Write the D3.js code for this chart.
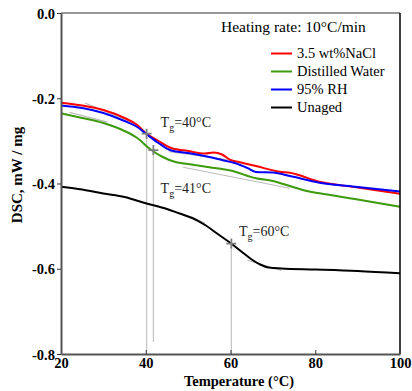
<!DOCTYPE html>
<html><head><meta charset="utf-8">
<script src="https://cdn.jsdelivr.net/npm/d3@7"></script>
<style>body{margin:0;background:#fff}svg{display:block}svg text{font-family:"Liberation Serif","Times New Roman",serif !important}</style>
</head><body>
<svg id="c" width="412" height="391"></svg>
<script>
const seriesNames = ["3.5 wt%NaCl","Distilled Water","95% RH","Unaged"];
const seriesColors = ["#ff0000","#3d9a0c","#0000ff","#000000"];
const nacl = [[20,-0.2104],[25,-0.217],[30,-0.2276],[35,-0.2463],[38,-0.2627],[40,-0.2815],[43,-0.3003],[46,-0.3167],[50,-0.3238],[54,-0.3296],[56,-0.3273],[58,-0.332],[60,-0.3449],[62,-0.3496],[66,-0.359],[71.6,-0.3723],[74,-0.3747],[81,-0.3958],[90,-0.4094],[100,-0.424]];
const water = [[20,-0.2353],[25,-0.2463],[30,-0.2581],[35,-0.2768],[38,-0.2933],[41,-0.3191],[44,-0.3378],[47,-0.3496],[50,-0.3543],[55,-0.362],[60,-0.3695],[66,-0.3878],[70,-0.3941],[74,-0.4059],[78,-0.4176],[81,-0.423],[90,-0.4375],[100,-0.4545]];
const rh = [[20,-0.217],[25,-0.2229],[30,-0.2346],[35,-0.2534],[38,-0.2674],[40,-0.2827],[43,-0.305],[46,-0.3226],[50,-0.3284],[55,-0.3378],[58,-0.3449],[61,-0.352],[64,-0.3637],[66,-0.373],[70,-0.3742],[74,-0.3824],[81,-0.3981],[90,-0.4082],[100,-0.4188]];
const unaged = [[20,-0.4075],[25,-0.4141],[30,-0.4235],[35,-0.4317],[40,-0.4465],[45,-0.4598],[48,-0.4704],[51,-0.4809],[54,-0.4974],[57,-0.5185],[60,-0.5396],[63,-0.563],[65,-0.5783],[67,-0.59],[69,-0.5971],[72,-0.5994],[80,-0.6018],[90,-0.6053],[100,-0.6107]];
const fitLines = [
  [[25.7,-0.2115],[37,-0.2575]],
  [[45.5,-0.3255],[60,-0.3450]],
  [[48.8,-0.3619],[74,-0.4112]],
  [[22,-0.2330],[31,-0.2560]],
  [[44,-0.4560],[54,-0.4930]],
  [[64,-0.5800],[72,-0.6040]]
];
const tgTemps = [40.2, 41.8, 60.2];
const tgValues = [-0.283, -0.3215, -0.541];
const tgBottoms = [-0.8, -0.772, -0.8];
const tgLabels = ["40","41","60"];
const tgLabelPos = [[43.5,-0.267],[43.5,-0.4225],[62,-0.522]];
const xTicks = [20,40,60,80,100];
const yTicks = [0,-0.2,-0.4,-0.6,-0.8];

const svg = d3.select("#c");
const L=61,R=400,T=13,B=354;
const x = d3.scaleLinear().domain([20,100]).range([L,R]);
const y = d3.scaleLinear().domain([-0.8,0]).range([B,T]);

const line = d3.line().x(d=>x(d[0])).y(d=>y(d[1]));
fitLines.forEach(f=>svg.append("path").attr("d",line(f)).attr("fill","none").attr("stroke","#bdbdbd").attr("stroke-width",1.2));
tgTemps.forEach((t,i)=>svg.append("line").attr("x1",x(t)).attr("x2",x(t)).attr("y1",y(tgValues[i])).attr("y2",y(tgBottoms[i])).attr("stroke","#c4c4c4").attr("stroke-width",1.2));

const curve = d3.line().x(d=>x(d[0])).y(d=>y(d[1])).curve(d3.curveMonotoneX);
[[water,1],[nacl,0],[rh,2],[unaged,3]].forEach(([d,i])=>{
  svg.append("path").attr("d",curve(d)).attr("fill","none").attr("stroke",seriesColors[i]).attr("stroke-width",2);
});

tgTemps.forEach((t,i)=>{
  const cx=x(t),cy=y(tgValues[i]);
  svg.append("path").attr("d",`M${cx-5},${cy}H${cx+5}M${cx},${cy-5}V${cy+5}`).attr("stroke","#7f7f7f").attr("stroke-width",1.8);
});

tgLabels.forEach((lab,i)=>{
  const t=svg.append("text").attr("x",x(tgLabelPos[i][0])).attr("y",y(tgLabelPos[i][1])).attr("font-size",14).attr("fill","#222");
  t.append("tspan").text("T");
  t.append("tspan").attr("font-size",10).attr("dy",4).text("g");
  t.append("tspan").attr("dy",-4).text("="+lab+"°C");
});

svg.append("line").attr("x1",L).attr("x2",R).attr("y1",T).attr("y2",T).attr("stroke","#333").attr("stroke-width",1.2);
svg.append("line").attr("x1",R).attr("x2",R).attr("y1",T).attr("y2",B).attr("stroke","#000").attr("stroke-width",1.5);

const fmtY = d=>d3.format(".1f")(d).replace("\u2212","-");
const xa = svg.append("g").attr("transform",`translate(0,${B})`).call(d3.axisBottom(x).tickValues(xTicks).tickSizeInner(-4).tickSizeOuter(0).tickPadding(5).tickFormat(d3.format("d")));
const ya = svg.append("g").attr("transform",`translate(${L},0)`).call(d3.axisLeft(y).tickValues(yTicks).tickSizeInner(4).tickSizeOuter(0).tickPadding(2).tickFormat(fmtY));
[xa,ya].forEach(a=>{
  a.attr("font-family",null);
  a.select(".domain").attr("stroke","#555").attr("stroke-width",2);
  a.selectAll(".tick line").attr("stroke","#333");
  a.selectAll("text").attr("font-weight","bold").attr("font-size",14.5).attr("fill","#000");
});
xa.selectAll(".tick").filter(d=>d===20||d===100).select("line").remove();
xa.selectAll("text").attr("dy","0.62em");
ya.selectAll("text").attr("dy","0.35em");

svg.append("text").attr("x",239).attr("y",386).attr("text-anchor","middle").attr("font-weight","bold").attr("font-size",14.5).text("Temperature (°C)");
svg.append("text").attr("transform","translate(22,175) rotate(-90)").attr("text-anchor","middle").attr("font-weight","bold").attr("font-size",15).text("DSC, mW / mg");

svg.append("text").attr("x",221).attr("y",32).attr("font-size",15.5).text("Heating rate: 10°C/min");
seriesNames.forEach((n,i)=>{
  const yy=53.5+i*18;
  svg.append("line").attr("x1",271).attr("x2",292).attr("y1",yy).attr("y2",yy).attr("stroke",seriesColors[i]).attr("stroke-width",2);
  svg.append("text").attr("x",297).attr("y",yy+4.5).attr("font-size",14.5).text(n);
});
</script>
</body></html>
